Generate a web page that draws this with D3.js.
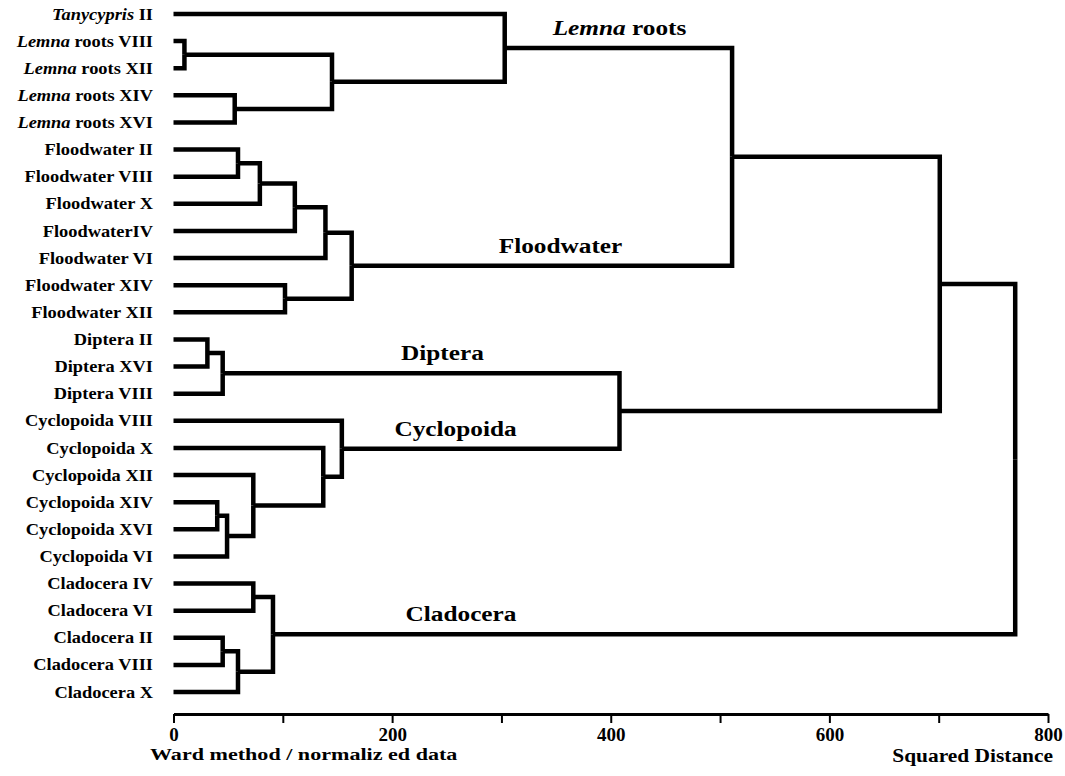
<!DOCTYPE html>
<meta charset="utf-8">
<style>
  body { margin: 0; background: #fff; }
  text { font-family: "Liberation Serif", "Times New Roman", serif; font-weight: bold; fill: #000; }
</style>
<body>
<script src="https://cdn.jsdelivr.net/npm/d3@7"></script>
<script>

// leaf labels, top to bottom
var leaves = [
  "Tanycypris II",
  "Lemna roots VIII", "Lemna roots XII", "Lemna roots XIV", "Lemna roots XVI",
  "Floodwater II", "Floodwater VIII", "Floodwater X", "FloodwaterIV",
  "Floodwater VI", "Floodwater XIV", "Floodwater XII",
  "Diptera II", "Diptera XVI", "Diptera VIII",
  "Cyclopoida VIII", "Cyclopoida X", "Cyclopoida XII", "Cyclopoida XIV",
  "Cyclopoida XVI", "Cyclopoida VI",
  "Cladocera IV", "Cladocera VI", "Cladocera II", "Cladocera VIII", "Cladocera X"
];

// merges: [child a, child b, squared distance]
// ids below 26 are leaves, merge k gets id 26 + k
var merges = [
  [1, 2, 10],     // 26
  [3, 4, 56],     // 27
  [26, 27, 145],  // 28
  [0, 28, 303],   // 29 Lemna roots
  [5, 6, 59],     // 30
  [30, 7, 79],    // 31
  [31, 8, 111],   // 32
  [32, 9, 139],   // 33
  [10, 11, 102],  // 34
  [33, 34, 163],  // 35 Floodwater
  [29, 35, 511],  // 36
  [12, 13, 31],   // 37
  [37, 14, 45],   // 38 Diptera
  [18, 19, 40],   // 39
  [39, 20, 49],   // 40
  [17, 40, 73],   // 41
  [16, 41, 137],  // 42
  [15, 42, 154],  // 43 Cyclopoida
  [38, 43, 408],  // 44
  [36, 44, 701],  // 45
  [21, 22, 73],   // 46
  [23, 24, 45],   // 47
  [47, 25, 59],   // 48
  [46, 48, 91],   // 49 Cladocera
  [45, 49, 770]   // 50 root
];

// cluster names, the merge they label and the distance where the name sits
var groupNames = ["Lemna roots", "Floodwater", "Diptera", "Cyclopoida", "Cladocera"];
var groupNodes = [29, 35, 38, 43, 49];
var groupAt = [408, 354, 246, 258, 263];

var tickValues = [0, 100, 200, 300, 400, 500, 600, 700, 800];
var italicWords = ["Tanycypris", "Lemna"];

var width = 1065, height = 776;

var svg = d3.select("body").append("svg")
    .attr("width", width)
    .attr("height", height);

// scales
var x = d3.scaleLinear().domain([0, 800]).range([173.5, 1048]);
var y = d3.scalePoint().domain(d3.range(leaves.length)).range([14, 692]);

// node positions
var nodes = leaves.map(function(d, i) { return {h: 0, y: y(i)}; });
merges.forEach(function(m) {
  nodes.push({h: m[2], y: (nodes[m[0]].y + nodes[m[1]].y) / 2, kids: [m[0], m[1]]});
});

// elbows
var links = [];
nodes.forEach(function(n) {
  if (!n.kids) return;
  n.kids.forEach(function(k) { links.push({c: nodes[k], p: n}); });
});

svg.append("g").selectAll("path")
    .data(links)
  .enter().append("path")
    .attr("d", function(d) {
      return "M" + x(d.c.h) + "," + d.c.y + "H" + x(d.p.h) + "V" + d.p.y;
    })
    .style("fill", "none")
    .style("stroke", "#000")
    .style("stroke-width", 4.5)
    .style("stroke-linejoin", "miter");

// writes a label, putting the genus word in italics
function fillLabel(t, s) {
  var first = s.split(" ")[0];
  if (italicWords.indexOf(first) >= 0) {
    t.append("tspan").style("font-style", "italic").text(first);
    t.append("tspan").text(s.slice(first.length));
  } else {
    t.text(s);
  }
}

// leaf labels
svg.append("g").selectAll("text")
    .data(leaves)
  .enter().append("text")
    .attr("transform", function(d, i) { return "translate(153," + y(i) + ") scale(1.15,1)"; })
    .attr("dy", "0.35em")
    .attr("text-anchor", "end")
    .style("font-size", "16px")
    .style("white-space", "pre")
    .each(function(d) { fillLabel(d3.select(this), d); });

// cluster names above their branch
svg.append("g").selectAll("text")
    .data(groupNames)
  .enter().append("text")
    .attr("transform", function(d, i) {
      return "translate(" + x(groupAt[i]) + "," + (nodes[groupNodes[i]].y - 13) + ") scale(1.15,1)";
    })
    .attr("text-anchor", "middle")
    .style("font-size", "22px")
    .style("white-space", "pre")
    .each(function(d) { fillLabel(d3.select(this), d); });

// x axis
var axis = svg.append("g")
    .attr("transform", "translate(0,714)")
    .call(d3.axisBottom(x)
      .tickValues(tickValues)
      .tickSize(9)
      .tickSizeOuter(0)
      .tickPadding(5)
      .tickFormat(function(d) { return d % 200 === 0 ? d : ""; }));

axis.select(".domain").style("stroke-width", 3);
axis.selectAll(".tick line").style("stroke-width", 2);
axis.selectAll(".tick text")
    .style("font-family", "'Liberation Serif', 'Times New Roman', serif")
    .style("font-weight", "bold")
    .style("font-size", "19px");

svg.append("text")
    .attr("transform", "translate(150,760) scale(1.3,1)")
    .style("font-size", "17px")
    .style("white-space", "pre")
    .text("Ward method / normaliz ed data");

svg.append("text")
    .attr("transform", "translate(1053,762) scale(1.19,1)")
    .attr("text-anchor", "end")
    .style("font-size", "18px")
    .text("Squared Distance");

</script>
</body>
